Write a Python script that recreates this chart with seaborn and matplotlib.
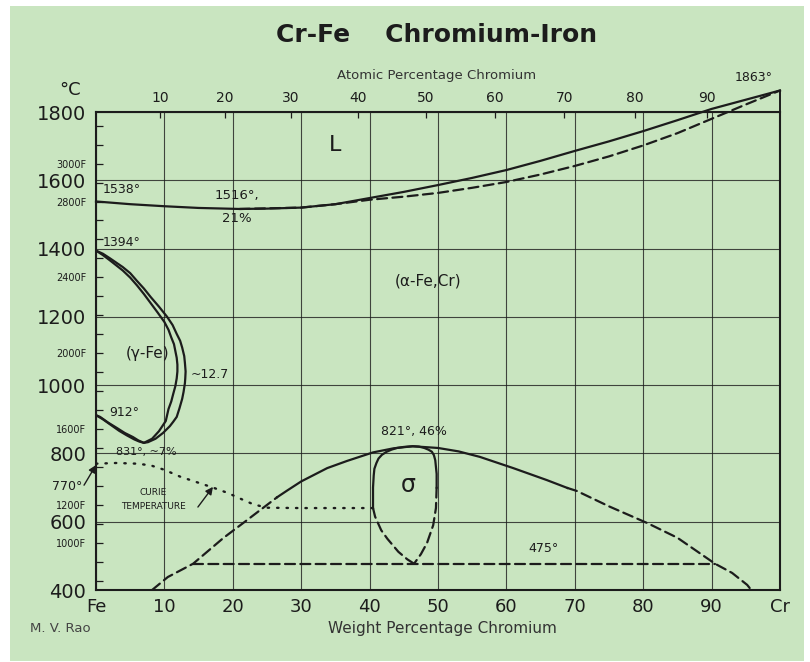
import numpy as np
import matplotlib.pyplot as plt
import seaborn as sns
from matplotlib.patches import Rectangle

# Liquidus / solidus (wt% Cr, deg C)
liq_wt = [0, 5, 10, 15, 21, 25, 30, 35, 40, 45, 50, 55, 60, 65, 70, 75, 80, 85, 90, 95, 100]
liq_T = [1538, 1530, 1524, 1519, 1516, 1517, 1520, 1530, 1548, 1566, 1586, 1607, 1630, 1657, 1686, 1714, 1744,
         1776, 1809, 1836, 1863]
sol_wt = [21, 30, 35, 40, 45, 50, 55, 60, 65, 70, 75, 80, 85, 90, 95, 100]
sol_T = [1516, 1520, 1530, 1543, 1552, 1563, 1578, 1595, 1617, 1642, 1670, 1702, 1738, 1780, 1822, 1863]

# gamma loop, outer and inner boundaries (1394 -> ~12.7% -> 831 -> 912)
gam_out_wt = [0, 1, 2, 3.9, 5, 6, 7, 8, 9.2, 10.4, 11.2, 11.8, 12.3, 12.6, 12.9, 13, 13.1, 13.05, 13, 12.8,
              12.6, 12.2, 11.8, 11.3, 10.8, 9.8, 8.7, 7.6, 7, 6.2, 5.4, 4.2, 3.1, 1.8, 0.6, 0]
gam_out_T = [1394, 1385, 1372, 1346, 1328, 1305, 1283, 1258, 1230, 1200, 1176, 1150, 1130, 1110, 1085, 1065,
             1040, 1020, 1006, 980, 960, 932, 907, 893, 880, 860, 843, 833, 831, 838, 848, 860, 874, 890, 907, 912]
gam_in_wt = [0, 1, 2, 3.9, 5, 6, 7, 8, 9, 10, 10.6, 11, 11.4, 11.6, 11.8, 11.9, 11.9, 11.8, 11.6, 11.3, 11,
             10.6, 10.2, 9.2, 8.2, 7, 6.3, 5.6, 4.5, 3.4, 2.2, 1, 0]
gam_in_T = [1394, 1381, 1366, 1336, 1315, 1292, 1267, 1240, 1213, 1185, 1162, 1140, 1120, 1100, 1080, 1060,
            1040, 1020, 997, 975, 952, 930, 895, 865, 843, 831, 835, 841, 853, 866, 883, 900, 912]

# Curie temperature (dotted)
curie_wt = [0, 3, 6, 8, 10, 12.3, 14.7, 17.1, 19.3, 21.5, 23, 25, 30, 35, 40.5]
curie_T = [770, 772, 770, 765, 752, 732, 716, 700, 684, 664, 651, 641, 640, 640, 640]

# alpha / alpha+sigma boundary
arc_l_wt = [8.2, 10.5, 14.2, 18.6, 22.1, 24, 26.5]
arc_l_T = [400, 438, 477, 552, 605, 634, 672]
arc_wt = [26.5, 28, 30, 33.8, 36.7, 40.5, 43.5, 46.3, 50, 53, 56.1, 61, 65.9, 68.9]
arc_T = [672, 692, 718, 757, 778, 803, 815, 821, 816, 806, 790, 757, 722, 699]
arc_r_wt = [68.9, 70.3, 75, 80.6, 85, 90.5, 93, 95.2, 95.8]
arc_r_T = [699, 690, 645, 596, 553, 477, 450, 415, 400]

# sigma field
sig_wt = [40.5, 40.5, 40.6, 40.7, 41, 41.3, 41.8, 42.5, 43.2, 44, 45, 46.3, 47.2, 48, 48.6, 49.1, 49.4, 49.6,
          49.7, 49.8, 49.8]
sig_T = [640, 700, 735, 755, 772, 785, 796, 805, 811, 816, 819, 821, 820, 816, 811, 805, 795, 780, 760, 740, 700]
sig_r_wt = [49.8, 49.7, 49.3, 48.4, 47.5, 46.5]
sig_r_T = [700, 640, 590, 538, 505, 477]
sig_l_wt = [40.5, 40.8, 41.7, 42.6, 44.2, 45.5, 46.5]
sig_l_T = [640, 615, 575, 550, 512, 490, 477]

# 475 deg line
eut_wt = [14.2, 90.5]
eut_T = [477, 477]

x_ticks = [0, 10, 20, 30, 40, 50, 60, 70, 80, 90, 100]
x_labels = ['Fe', '10', '20', '30', '40', '50', '60', '70', '80', '90', 'Cr']
y_ticks = [400, 600, 800, 1000, 1200, 1400, 1600, 1800]
f_ticks = list(range(800, 3300, 100))
f_named = [1000, 1200, 1600, 2000, 2400, 2800, 3000]
at_ticks = [10, 20, 30, 40, 50, 60, 70, 80, 90]

plt.rcParams['font.family'] = ['DejaVu Sans']
bg = '#c9e5c0'
ink = '#1c1c1c'
W, H = 810, 662

fig = plt.figure(figsize=(8.1, 6.62), dpi=100, facecolor='white')
fig.patches.append(Rectangle((10 / W, 1 / H), 794 / W, 655 / H, transform=fig.transFigure,
                             facecolor=bg, edgecolor='none', zorder=-10))
ax = fig.add_axes([96 / W, 72 / H, 684 / W, 478 / H])
ax.set_facecolor(bg)
ax.set_xlim(0, 100)
ax.set_ylim(400, 1800)


def draw(x, y, ls='-', lw=1.6, clip=True):
    sns.lineplot(x=x, y=y, sort=False, estimator=None, ax=ax, color=ink, lw=lw,
                 linestyle=ls, clip_on=clip, dash_capstyle='round', solid_joinstyle='round')


dash = (0, (4.5, 2.4))
draw(liq_wt, liq_T, clip=False)
draw(sol_wt, sol_T, ls=dash, clip=False)
ax.vlines(100, 1800, liq_T[-1], color=ink, lw=1.4, clip_on=False)
draw(gam_out_wt, gam_out_T)
draw(gam_in_wt, gam_in_T)
draw(curie_wt, curie_T, ls=(0, (0.6, 3.4)), lw=1.7)
draw(arc_l_wt, arc_l_T, ls=dash)
draw(arc_wt, arc_T)
draw(arc_r_wt, arc_r_T, ls=dash)
draw(sig_wt, sig_T)
draw(sig_r_wt, sig_r_T, ls=dash)
draw(sig_l_wt, sig_l_T, ls=dash)
draw(eut_wt, eut_T, ls=dash)

# grid and axes
ax.set_xticks(x_ticks, labels=x_labels)
ax.set_yticks(y_ticks, labels=[str(v) for v in y_ticks])
f_pos = [(f - 32) * 5 / 9 for f in f_ticks]
f_lab = [f'{f}F' if f in f_named else '' for f in f_ticks]
ax.set_yticks(f_pos, labels=f_lab, minor=True)
ax.grid(True, which='major', color=ink, lw=0.8, alpha=0.8)
ax.tick_params(axis='x', length=0, pad=6, labelsize=13, colors=ink)
ax.tick_params(axis='y', which='major', length=0, pad=7, labelsize=14, colors=ink)
ax.tick_params(axis='y', which='minor', left=True, direction='in', length=5, width=0.9,
               pad=7, labelsize=7, colors=ink)
for s in ax.spines.values():
    s.set_color(ink)
    s.set_linewidth(1.5)


def wt_to_at(w):
    w = np.asarray(w, dtype=float)
    return 100 * (w / 52.0) / (w / 52.0 + (100 - w) / 55.85)


def at_to_wt(a):
    a = np.asarray(a, dtype=float)
    return 100 * a * 52.0 / (a * 52.0 + (100 - a) * 55.85)


sec = ax.secondary_xaxis('top', functions=(wt_to_at, at_to_wt))
sec.set_xticks(at_ticks)
sec.tick_params(direction='in', length=4, width=0.9, labelsize=10, pad=5, colors=ink)
sec.spines['top'].set_visible(False)

# labels
fig.text(437 / W, 1 - 35 / H, 'Cr-Fe    Chromium-Iron', fontsize=18, fontweight='bold',
         ha='center', va='center', color=ink)
fig.text(437 / W, 1 - 75 / H, 'Atomic Percentage Chromium', fontsize=9.5, ha='center', va='center', color='#333')
fig.text(442 / W, 1 - 628 / H, 'Weight Percentage Chromium', fontsize=11, ha='center', va='center', color='#333')
fig.text(60 / W, 1 - 629 / H, 'M. V. Rao', fontsize=9.5, ha='center', va='center', color='#444')
fig.text(70 / W, 1 - 90 / H, '°C', fontsize=13, ha='center', va='center', color=ink)

ax.text(96.1, 1900, '1863°', fontsize=9, ha='center', va='center', color=ink)
ax.text(34.9, 1703, 'L', fontsize=16, ha='center', va='center', color=ink)
ax.text(1.0, 1574, '1538°', fontsize=9, ha='left', va='center', color=ink)
ax.text(20.6, 1554, '1516°,', fontsize=9.5, ha='center', va='center', color=ink)
ax.text(20.6, 1487, '21%', fontsize=9.5, ha='center', va='center', color=ink)
ax.text(1.0, 1419, '1394°', fontsize=9, ha='left', va='center', color=ink)
ax.text(48.5, 1305, '(α-Fe,Cr)', fontsize=11, ha='center', va='center', color=ink)
ax.text(7.6, 1094, '(γ-Fe)', fontsize=11, ha='center', va='center', color=ink)
ax.text(13.8, 1030, '~12.7', fontsize=9, ha='left', va='center', color=ink)
ax.text(4.2, 921, '912°', fontsize=9, ha='center', va='center', color=ink)
ax.text(7.4, 804, '831°, ~7%', fontsize=8, ha='center', va='center', color=ink)
ax.text(46.5, 863, '821°, 46%', fontsize=9, ha='center', va='center', color=ink)
ax.text(45.6, 707, 'σ', fontsize=17, ha='center', va='center', color=ink)
ax.text(65.4, 523, '475°', fontsize=9, ha='center', va='center', color=ink)
ax.text(8.4, 687, 'CURIE', fontsize=6.5, ha='center', va='center', color=ink)
ax.text(8.4, 646, 'TEMPERATURE', fontsize=6.5, ha='center', va='center', color=ink)
ax.text(-4.2, 702, '770°', fontsize=9, ha='center', va='center', color=ink)

arrow = dict(arrowstyle='-|>', color=ink, lw=1.0, mutation_scale=11, shrinkA=0, shrinkB=0)
ax.annotate('', xy=(0, 766), xytext=(-1.75, 707), arrowprops=arrow, annotation_clip=False)
ax.annotate('', xy=(17.1, 702), xytext=(14.9, 643), arrowprops=arrow, annotation_clip=False)

fig.savefig('out.png', dpi=100, facecolor=fig.get_facecolor())
